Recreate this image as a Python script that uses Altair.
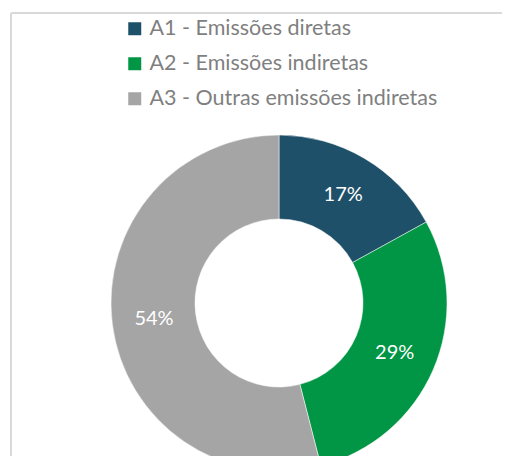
import altair as alt
import pandas as pd

categories = ["A1 - Emissões diretas", "A2 - Emissões indiretas", "A3 - Outras emissões indiretas"]
values = [17, 29, 54]
labels = ["17%", "29%", "54%"]
colors = ["#1F5069", "#009645", "#A5A5A5"]

df = pd.DataFrame({"cat": categories, "value": values, "label": labels, "order": [0, 1, 2]})

CX, CY = 271, 295

base = alt.Chart(df).encode(
    theta=alt.Theta("value:Q", stack=True),
    order=alt.Order("order:Q"),
)

arc = base.mark_arc(outerRadius=168, innerRadius=84, stroke="white", strokeWidth=0.5).encode(
    color=alt.Color(
        "cat:N",
        scale=alt.Scale(domain=categories, range=colors),
        legend=alt.Legend(
            title=None,
            orient="none",
            legendX=116,
            legendY=10,
            symbolType="square",
            symbolSize=169,
            symbolStrokeWidth=0,
            labelFontSize=21.5,
            labelFont="Lato",
            labelColor="#7F7F7F",
            labelOffset=4,
            rowPadding=12,
            labelLimit=400,
        ),
    ),
    x=alt.value(CX),
    y=alt.value(CY),
)

text = base.mark_text(radius=126, fontSize=20, font="Lato", color="white").encode(
    text="label:N",
    x=alt.value(CX),
    y=alt.value(CY),
)

border_left = alt.Chart(df).mark_rule(color="#D9D9D9", strokeWidth=1.5).encode(
    x=alt.value(3), y=alt.value(5), y2=alt.value(460)
)
border_top = alt.Chart(df).mark_rule(color="#D9D9D9", strokeWidth=1.5).encode(
    x=alt.value(3), x2=alt.value(510), y=alt.value(5)
)

chart = alt.layer(border_left, border_top, arc, text).properties(
    width=494, height=448, autosize=alt.AutoSizeParams(type="none"), padding=0
).configure_view(stroke=None)

chart.save("out.html", embed_options={"renderer": "svg", "actions": False})
